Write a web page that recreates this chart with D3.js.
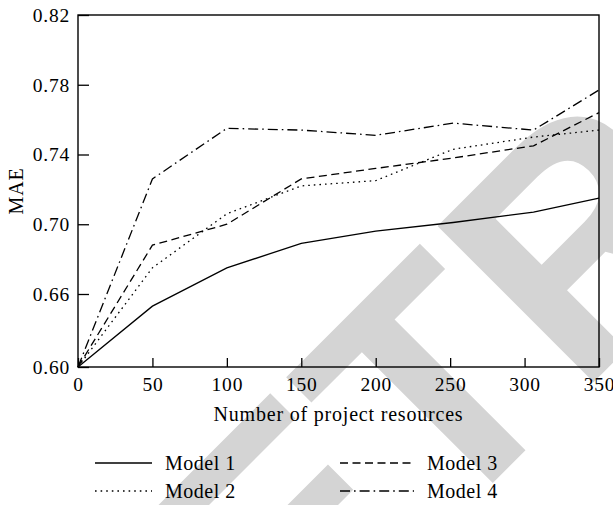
<!DOCTYPE html>
<html>
<head>
<meta charset="utf-8">
<script src="https://cdn.jsdelivr.net/npm/d3@7"></script>
<style>
  body { margin: 0; background: #fff; }
  text { font-family: "Liberation Serif", "Times New Roman", serif; }
</style>
</head>
<body>
<div id="chart"></div>
<script>
var svgWidth = 613;
var svgHeight = 505;

// data
var resources = [0, 50, 100, 150, 200, 252, 306, 350];
var model1 = [0.600, 0.650, 0.675, 0.689, 0.696, 0.701, 0.707, 0.715];
var model2 = [0.600, 0.675, 0.706, 0.722, 0.725, 0.743, 0.750, 0.754];
var model3 = [0.600, 0.688, 0.700, 0.726, 0.732, 0.738, 0.745, 0.764];
var model4 = [0.600, 0.726, 0.755, 0.754, 0.751, 0.758, 0.754, 0.777];
var seriesNames = ["Model 1", "Model 2", "Model 3", "Model 4"];
var xTicks = [0, 50, 100, 150, 200, 250, 300, 350];
var yTicks = [0.60, 0.66, 0.70, 0.74, 0.78, 0.82];

var margin = { top: 15, right: 14, bottom: 138, left: 78 };
var width = svgWidth - margin.left - margin.right;
var height = svgHeight - margin.top - margin.bottom;

var svg = d3.select("#chart")
  .append("svg")
  .attr("width", svgWidth)
  .attr("height", svgHeight);

svg.append("rect")
  .attr("width", svgWidth)
  .attr("height", svgHeight)
  .attr("fill", "#fff");

// watermark in the background, tilted up to the right
var wm = svg.append("text")
  .style("font-family", "'Liberation Sans', Arial, sans-serif")
  .attr("font-weight", "bold")
  .attr("font-size", 321)
  .attr("fill", "#d4d4d4")
  .text("RETRACTED");
var tStart = wm.node().getStartPositionOfChar(2).x;
var tWidth = wm.node().getExtentOfChar(2).width;
var tCenter = tStart + tWidth / 2;
wm.attr("transform", `rotate(-45) translate(${30 - tCenter}, 690)`);

var chartGroup = svg.append("g")
  .attr("transform", `translate(${margin.left}, ${margin.top})`);

var xScale = d3.scaleLinear()
  .domain([0, 350])
  .range([0, width]);

// the axis is not even: 0.60 to 0.66 takes about as much room as 0.04 elsewhere
var yScale = d3.scaleLinear()
  .domain([0.60, 0.66, 0.82])
  .range([height, height - 73, 0]);

var bottomAxis = d3.axisBottom(xScale)
  .tickValues(xTicks)
  .tickSize(-9)
  .tickPadding(10)
  .tickFormat(d3.format("d"));

var leftAxis = d3.axisLeft(yScale)
  .tickValues(yTicks)
  .tickSize(-11)
  .tickPadding(8)
  .tickFormat(d3.format(".2f"));

var xAxis = chartGroup.append("g")
  .attr("transform", `translate(0, ${height})`)
  .call(bottomAxis);

var yAxis = chartGroup.append("g")
  .call(leftAxis);

[xAxis, yAxis].forEach(function(ax) {
  ax.select(".domain").remove();
  ax.selectAll("line").attr("stroke", "#000").attr("stroke-width", 1.3);
  ax.selectAll("text")
    .attr("fill", "#000")
    .style("font-family", "'Liberation Serif', 'Times New Roman', serif")
    .style("font-size", "19.5px")
    .style("letter-spacing", "0.8px");
});

// frame
chartGroup.append("rect")
  .attr("width", width)
  .attr("height", height)
  .attr("fill", "none")
  .attr("stroke", "#000")
  .attr("stroke-width", 1.4);

var dashes = ["none", "1.6,4", "8,4.5", "10,4,1.6,4"];
var allSeries = [model1, model2, model3, model4];

var line = d3.line()
  .x((d, i) => xScale(resources[i]))
  .y(d => yScale(d));

allSeries.forEach(function(values, k) {
  chartGroup.append("path")
    .datum(values)
    .attr("fill", "none")
    .attr("stroke", "#000")
    .attr("stroke-width", 1.3)
    .attr("stroke-dasharray", dashes[k])
    .attr("d", line);
});

// axis labels
chartGroup.append("text")
  .attr("x", width / 2)
  .attr("y", height + 54)
  .attr("text-anchor", "middle")
  .style("font-size", "20px")
  .style("letter-spacing", "0.8px")
  .text("Number of project resources");

chartGroup.append("text")
  .attr("transform", "rotate(-90)")
  .attr("x", -height / 2)
  .attr("y", -55)
  .attr("text-anchor", "middle")
  .style("font-size", "20px")
  .style("letter-spacing", "0.8px")
  .text("MAE");

// legend
var legendPos = [
  { x: 95, y: 463, len: 57 },
  { x: 95, y: 491, len: 57 },
  { x: 340, y: 463, len: 74 },
  { x: 340, y: 491, len: 74 }
];

var legend = svg.append("g");
seriesNames.forEach(function(name, k) {
  var p = legendPos[k];
  legend.append("line")
    .attr("x1", p.x)
    .attr("x2", p.x + p.len)
    .attr("y1", p.y)
    .attr("y2", p.y)
    .attr("stroke", "#000")
    .attr("stroke-width", 1.3)
    .attr("stroke-dasharray", dashes[k]);
  legend.append("text")
    .attr("x", p.x + p.len + 13)
    .attr("y", p.y)
    .attr("dy", "0.35em")
    .style("font-size", "20px")
    .style("letter-spacing", "0.5px")
    .text(name);
});
</script>
</body>
</html>
